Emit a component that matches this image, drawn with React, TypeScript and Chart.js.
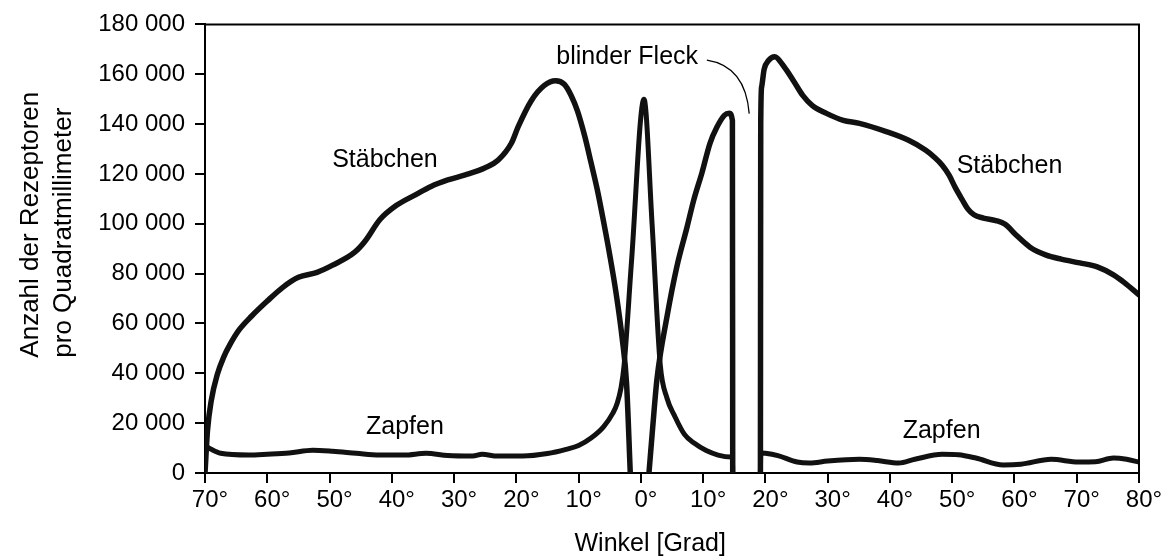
import React, { useEffect, useRef } from "react";
import { Chart, registerables } from "chart.js";

Chart.register(...registerables);

const FONT = '"Liberation Sans", Arial, Helvetica, sans-serif';

// Stäbchen (rods): angle in degrees (negative = left of fovea), receptors per mm²
// null = no curve drawn (rod-free fovea, blind spot)
const rodAngles = [
  -70, -69.6, -69, -68, -67, -66, -64.5, -62.5, -60, -57.5, -55, -52, -49.5, -46, -44.3,
  -41.9, -39.3, -36.3, -33.7, -31, -28.2, -25, -22.9, -20.8, -19.7, -17.6, -15.5, -13.7,
  -12.3, -11.2, -10.2, -9, -8, -7, -6, -5, -4, -3, -2.3, -1.7,
  0,
  1.3, 1.9, 2.6, 4.2, 5.8, 7.4, 8.5, 9.8, 11.1, 12.2, 13.4, 14.2, 14.7, 14.75,
  17,
  19.2, 19.25, 19.4, 19.8, 20.5, 21.5, 23, 24.6, 26, 27.5, 29.8, 32.5, 35.1, 39.4, 43, 45.7, 47,
  48.4, 49.5, 50.5, 51.6, 52.5, 53.5, 55, 57, 58.5, 60.3, 62.5, 65, 67.5, 70.5, 73.3, 75.9, 77.6, 80,
];
const rodDensity = [
  0, 17000, 29000, 39700, 46500, 51500, 57500, 63000, 69000, 74500, 78500, 80500, 83400, 88500, 93000,
  101700, 107300, 111500, 115000, 117600, 119600, 122500, 125600, 132300, 139000, 149400, 155500, 157400,
  156000, 151500, 145400, 135000, 124500, 113700, 101000, 87500, 72500, 54000, 36000, 0,
  null,
  0, 18300, 38000, 62800, 83000, 98500, 109600, 120400, 132300, 138700, 143500, 144300, 141500, 0,
  null,
  0, 140000, 155000, 162000, 165500, 167000, 163000, 157000, 151500, 147500, 144300, 141500, 140300, 137000, 133500, 129600, 127000,
  123500, 119500, 114500, 109700, 106000, 103600, 102300, 101300, 99800, 95400, 90600, 87500, 85800, 84300, 82700, 79500, 76500, 71500,
];

// Zapfen (cones)
const coneAngles = [
  -70, -69, -67.5, -63, -60, -56.5, -52.7, -49.5, -45.7, -42, -38, -34.5, -31, -27, -25.5, -23,
  -19, -15, -12, -10, -8, -6, -4.5, -3.8, -3.2, -2.7, -1.5, 0.5, 1.8, 3.1, 4.2, 5.4, 7, 8.6, 10.5,
  12.4, 14.5, 14.7, 14.75,
  17,
  19.2, 19.25, 20, 22, 25.1, 27.1, 30, 35.1, 38, 41.4, 44, 48.4, 51, 53.8,
  58.2, 61, 65.9, 70.3, 73, 75.9, 78, 80,
];
const coneDensity = [
  11000, 9500, 7900, 7200, 7500, 8000, 9100, 8700, 7900, 7200, 7200, 7900, 7000, 6800, 7500, 6800,
  6800, 7800, 9500, 11000, 14000, 18500, 24000, 28000, 34000, 43000, 85000, 150000, 100000, 43700, 30000, 23000, 15500, 11900, 9000,
  7200, 6400, 6300, 0,
  null,
  0, 8000, 7900, 7000, 4400, 4000, 4800, 5500, 5000, 4000, 5500, 7500, 7300, 6000,
  3200, 3500, 5500, 4400, 4500, 6000, 5500, 4400,
];

const xTickLabels = [
  "70°", "60°", "50°", "40°", "30°", "20°", "10°", "0°",
  "10°", "20°", "30°", "40°", "50°", "60°", "70°", "80°",
];
const yTickLabels = [
  "0", "20 000", "40 000", "60 000", "80 000", "100 000",
  "120 000", "140 000", "160 000", "180 000",
];

const yTitleLines = ["Anzahl der Rezeptoren", "pro Quadratmillimeter"];
const xTitle = "Winkel [Grad]";

const curveLabels = [
  { text: "Stäbchen", angle: -41.1, value: 122800 },
  { text: "Stäbchen", angle: 59.2, value: 120400 },
  { text: "Zapfen", angle: -37.9, value: 15500 },
  { text: "Zapfen", angle: 48.3, value: 13900 },
  { text: "blinder Fleck", angle: -2.2, value: 164100 },
];
// leader line from "blinder Fleck" to the blind spot: start, control, end
const leaderAngles = [10.6, 16.8, 17.4];
const leaderValues = [165700, 163300, 144200];

const decorPlugin = {
  id: "decor",
  afterDraw(chart: any) {
    const { ctx, chartArea, scales } = chart;
    const x = scales.x;
    const y = scales.y;
    ctx.save();
    ctx.strokeStyle = "#000";
    ctx.lineWidth = 2;
    ctx.beginPath();
    ctx.moveTo(chartArea.left, chartArea.top);
    ctx.lineTo(chartArea.right, chartArea.top);
    ctx.lineTo(chartArea.right, chartArea.bottom);
    ctx.stroke();

    ctx.fillStyle = "#000";
    ctx.font = `25px ${FONT}`;
    ctx.textAlign = "center";
    ctx.textBaseline = "alphabetic";
    for (const l of curveLabels) {
      ctx.fillText(l.text, x.getPixelForValue(l.angle), y.getPixelForValue(l.value));
    }

    ctx.lineWidth = 1.3;
    ctx.beginPath();
    ctx.moveTo(x.getPixelForValue(leaderAngles[0]), y.getPixelForValue(leaderValues[0]));
    ctx.quadraticCurveTo(
      x.getPixelForValue(leaderAngles[1]), y.getPixelForValue(leaderValues[1]),
      x.getPixelForValue(leaderAngles[2]), y.getPixelForValue(leaderValues[2])
    );
    ctx.stroke();

    ctx.font = `25px ${FONT}`;
    ctx.fillText(xTitle, x.getPixelForValue(1.5), chartArea.bottom + 78);

    ctx.font = `26px ${FONT}`;
    const midY = (chartArea.top + chartArea.bottom) / 2;
    const baseX = [38, 71];
    const offY = [-24, -16];
    yTitleLines.forEach((line, i) => {
      ctx.save();
      ctx.translate(baseX[i], midY + offY[i]);
      ctx.rotate(-Math.PI / 2);
      ctx.fillText(line, 0, 0);
      ctx.restore();
    });
    ctx.restore();
  },
};

export default function App() {
  const canvasRef = useRef<HTMLCanvasElement | null>(null);

  useEffect(() => {
    document.body.style.margin = "0";
    const canvas = canvasRef.current;
    if (!canvas) return;
    const lineStyle = {
      borderColor: "#111",
      borderWidth: 5.5,
      pointRadius: 0,
      fill: false,
      spanGaps: false,
      cubicInterpolationMode: "monotone" as const,
      borderJoinStyle: "round" as const,
      borderCapStyle: "round" as const,
    };
    const chart = new Chart(canvas, {
      type: "line",
      data: {
        datasets: [
          {
            label: "Stäbchen",
            data: rodAngles.map((a, i) => ({ x: a, y: rodDensity[i] })),
            ...lineStyle,
          },
          {
            label: "Zapfen",
            data: coneAngles.map((a, i) => ({ x: a, y: coneDensity[i] })),
            ...lineStyle,
            borderWidth: 5,
          },
        ],
      },
      options: {
        responsive: false,
        animation: false,
        devicePixelRatio: 1,
        layout: { padding: { top: 20, right: 33, left: 0, bottom: 0 } },
        plugins: { legend: { display: false }, tooltip: { enabled: false } },
        scales: {
          x: {
            type: "linear",
            min: -70,
            max: 80,
            afterFit: (s: any) => { s.height = 87; },
            ticks: {
              stepSize: 10,
              autoSkip: false,
              maxRotation: 0,
              labelOffset: 5,
              padding: 3,
              color: "#000",
              font: { family: FONT, size: 24 },
              callback: (_v: any, i: number) => xTickLabels[i],
            },
            grid: {
              drawOnChartArea: false,
              drawTicks: true,
              tickLength: 10,
              color: "#000",
              lineWidth: 2,
            },
            border: { display: true, color: "#000", width: 2 },
          },
          y: {
            type: "linear",
            min: 0,
            max: 180000,
            afterFit: (s: any) => { s.width = 205; },
            ticks: {
              stepSize: 20000,
              padding: 10,
              color: "#000",
              font: { family: FONT, size: 24 },
              callback: (_v: any, i: number) => yTickLabels[i],
            },
            grid: {
              drawOnChartArea: false,
              drawTicks: true,
              tickLength: 10,
              color: "#000",
              lineWidth: 2,
            },
            border: { display: true, color: "#000", width: 2 },
          },
        },
      },
      plugins: [decorPlugin],
    });
    return () => chart.destroy();
  }, []);

  return (
    <div style={{ width: 1172, height: 560 }}>
      <canvas ref={canvasRef} width={1172} height={560} style={{ display: "block" }} />
    </div>
  );
}
